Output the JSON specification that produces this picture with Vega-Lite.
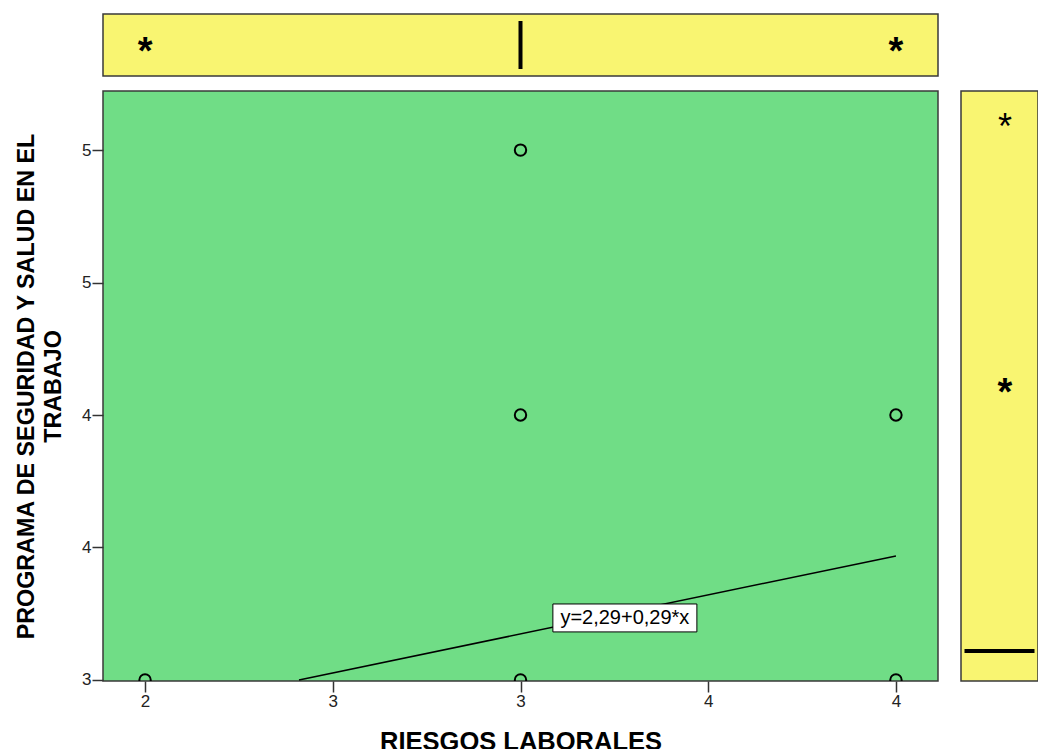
{
  "$schema": "https://vega.github.io/schema/vega-lite/v6.json",
  "padding": {"left": 13, "top": 13, "right": 0, "bottom": 0},
  "background": "white",
  "config": {
    "font": "Liberation Sans",
    "axis": {"labelFont": "Liberation Sans", "titleFont": "Liberation Sans"}
  },
  "datasets": {
    "points": [
      {"riesgos": 2, "programa": 3},
      {"riesgos": 3, "programa": 3},
      {"riesgos": 3, "programa": 4},
      {"riesgos": 3, "programa": 5},
      {"riesgos": 4, "programa": 3},
      {"riesgos": 4, "programa": 4}
    ],
    "fit": [
      {"riesgos": 2.41, "programa": 3.0},
      {"riesgos": 4.0, "programa": 3.468}
    ],
    "label": [
      {"riesgos": 3.278, "programa": 3.234, "texto": "y=2,29+0,29*x"}
    ],
    "topbox": [
      {"riesgos": 3, "papel": "mediana"},
      {"riesgos": 2, "papel": "extremo"},
      {"riesgos": 4, "papel": "extremo"}
    ],
    "rightbox": [
      {"programa": 3, "papel": "mediana"},
      {"programa": 5, "papel": "atipico"},
      {"programa": 4, "papel": "extremo"}
    ]
  },
  "vconcat": [
    {
      "width": 835,
      "height": 62,
      "view": {"fill": "#F9F571", "stroke": "#3a3a3a", "strokeWidth": 1.5},
      "layer": [
        {
          "data": {"name": "topbox"},
          "transform": [{"filter": "datum.papel === 'mediana'"}],
          "mark": {"type": "tick", "orient": "vertical", "size": 48, "thickness": 4, "color": "black", "opacity": 1},
          "encoding": {
            "x": {"field": "riesgos", "type": "quantitative", "scale": {"domain": [1.888, 4.112], "nice": false, "zero": false}, "axis": null}
          }
        },
        {
          "data": {"name": "topbox"},
          "transform": [{"filter": "datum.papel === 'extremo'"}],
          "mark": {"type": "text", "text": "*", "fontSize": 38, "fontWeight": "bold", "baseline": "alphabetic", "dy": 19, "color": "black"},
          "encoding": {
            "x": {"field": "riesgos", "type": "quantitative", "scale": {"domain": [1.888, 4.112], "nice": false, "zero": false}, "axis": null}
          }
        }
      ]
    },
    {
      "hconcat": [
        {
          "width": 835,
          "height": 590,
          "view": {"fill": "#70DD86", "stroke": "#3a3a3a", "strokeWidth": 1.5},
          "encoding": {
            "x": {
              "field": "riesgos", "type": "quantitative",
              "scale": {"domain": [1.888, 4.112], "nice": false, "zero": false},
              "axis": {
                "title": "RIESGOS LABORALES",
                "values": [2, 2.5, 3, 3.5, 4],
                "format": ".0f",
                "grid": false, "domain": false,
                "tickSize": 11, "tickWidth": 1.5, "tickColor": "#333",
                "labelFontSize": 17, "labelColor": "#222", "labelPadding": 1,
                "titleFontSize": 25.5, "titleFontWeight": "bold", "titleColor": "black", "titlePadding": 20
              }
            },
            "y": {
              "field": "programa", "type": "quantitative",
              "scale": {"domain": [2.996, 5.223], "nice": false, "zero": false},
              "axis": {
                "title": ["PROGRAMA DE SEGURIDAD Y SALUD EN EL", "TRABAJO"],
                "values": [3, 3.5, 4, 4.5, 5],
                "format": ".0f",
                "grid": false, "domain": false,
                "tickSize": 11, "tickWidth": 1.5, "tickColor": "#333",
                "labelFontSize": 17, "labelColor": "#222", "labelPadding": 1,
                "titleFontSize": 23.3, "titleFontWeight": "bold", "titleColor": "black",
                "titlePadding": 16, "titleLineHeight": 27
              }
            }
          },
          "layer": [
            {
              "data": {"name": "points"},
              "mark": {"type": "point", "shape": "circle", "filled": false, "size": 130, "stroke": "black", "strokeWidth": 2, "opacity": 1, "clip": true}
            },
            {
              "data": {"name": "fit"},
              "mark": {"type": "line", "color": "black", "strokeWidth": 1.5, "clip": true}
            },
            {
              "data": {"name": "label"},
              "mark": {"type": "point", "shape": "M-1,-0.194H1V0.194H-1Z", "size": 20736, "filled": true, "fill": "white", "stroke": "black", "strokeWidth": 1, "opacity": 1}
            },
            {
              "data": {"name": "label"},
              "mark": {"type": "text", "fontSize": 20, "color": "black", "align": "center", "baseline": "middle"},
              "encoding": {"text": {"field": "texto", "type": "nominal"}}
            }
          ]
        },
        {
          "width": 77,
          "height": 590,
          "view": {"fill": "#F9F571", "stroke": "#3a3a3a", "strokeWidth": 1.5},
          "layer": [
            {
              "data": {"name": "rightbox"},
              "transform": [{"filter": "datum.papel === 'mediana'"}],
              "mark": {"type": "tick", "orient": "horizontal", "size": 70, "thickness": 4, "color": "black", "opacity": 1},
              "encoding": {
                "y": {"field": "programa", "type": "quantitative", "scale": {"domain": [2.887, 5.113], "nice": false, "zero": false}, "axis": null}
              }
            },
            {
              "data": {"name": "rightbox"},
              "transform": [{"filter": "datum.papel === 'extremo'"}],
              "mark": {"type": "text", "text": "*", "fontSize": 38, "fontWeight": "bold", "baseline": "alphabetic", "dy": 19, "dx": 5.5, "color": "black"},
              "encoding": {
                "y": {"field": "programa", "type": "quantitative", "scale": {"domain": [2.887, 5.113], "nice": false, "zero": false}, "axis": null}
              }
            },
            {
              "data": {"name": "rightbox"},
              "transform": [{"filter": "datum.papel === 'atipico'"}],
              "mark": {"type": "text", "text": "*", "fontSize": 36, "fontWeight": "normal", "baseline": "alphabetic", "dy": 18, "dx": 5.5, "color": "black"},
              "encoding": {
                "y": {"field": "programa", "type": "quantitative", "scale": {"domain": [2.887, 5.113], "nice": false, "zero": false}, "axis": null}
              }
            }
          ],
          "resolve": {"scale": {"y": "shared"}}
        }
      ],
      "spacing": 21,
      "resolve": {"scale": {"x": "independent", "y": "independent"}}
    }
  ],
  "spacing": 13,
  "resolve": {"scale": {"x": "independent", "y": "independent"}}
}
